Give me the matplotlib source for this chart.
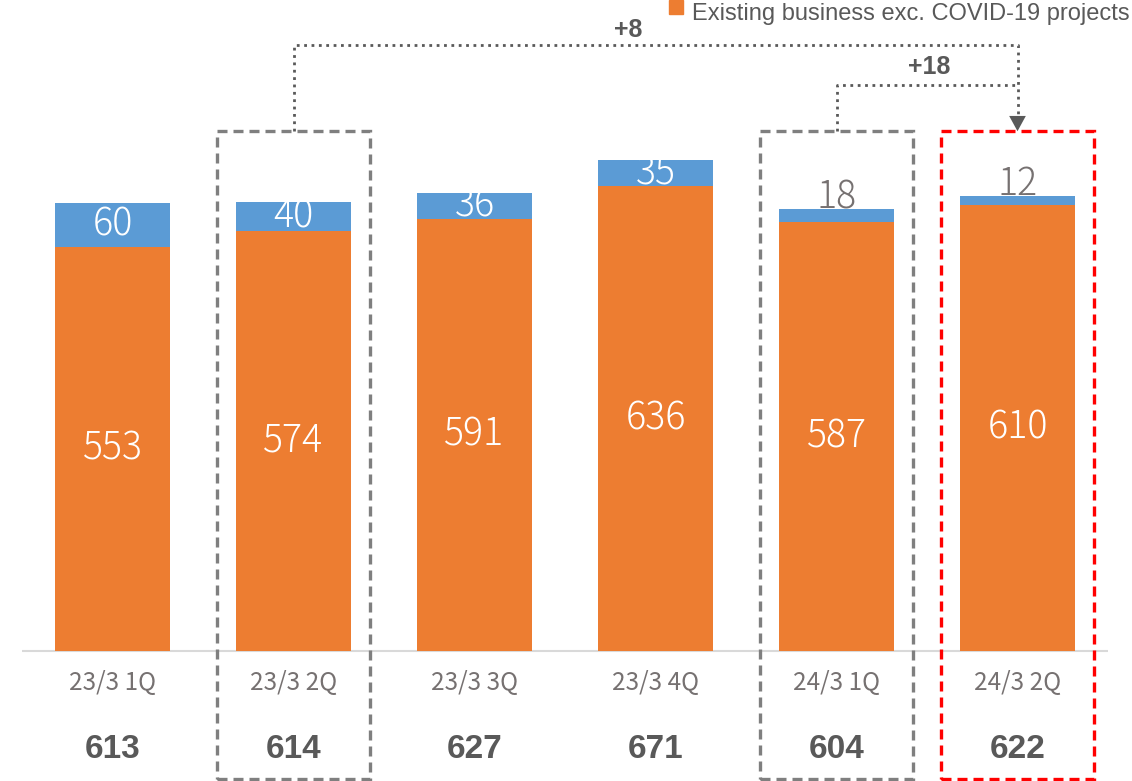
import matplotlib.pyplot as plt
from matplotlib.patches import Rectangle

plt.rcParams['font.family'] = ['Noto Sans CJK JP', 'DejaVu Sans']

# data
quarters = ['23/3 1Q', '23/3 2Q', '23/3 3Q', '23/3 4Q', '24/3 1Q', '24/3 2Q']
existing = [553, 574, 591, 636, 587, 610]
covid = [60, 40, 36, 35, 18, 12]
totals = [613, 614, 627, 671, 604, 622]

orange = '#ED7D31'
blue = '#5B9BD5'
grey = '#767171'
dark = '#595959'

fig = plt.figure(figsize=(11.32, 7.81), dpi=100)
ax = fig.add_axes([22 / 1132, 0, 1086 / 1132, 1])
ax.set_xlim(-0.5, 5.5)
ax.set_ylim(-177.8, 890.5)
ax.axis('off')

x = list(range(len(quarters)))
ax.bar(x, existing, width=0.635, color=orange, zorder=2)
ax.bar(x, covid, width=0.635, bottom=existing, color=blue, zorder=2)
ax.axhline(0, color='#D9D9D9', lw=1.5, zorder=1)

for i in x:
    ax.text(i, existing[i] / 2, str(existing[i]), ha='center', va='center',
            color='white', fontsize=27, fontweight='light', zorder=3)
    if covid[i] >= 30:
        ax.text(i, existing[i] + covid[i] / 2, str(covid[i]), ha='center', va='center',
                color='white', fontsize=27, fontweight='light', zorder=3)
    else:
        ax.text(i, totals[i] + 16, str(covid[i]), ha='center', va='center',
                color=grey, fontsize=27, fontweight='light', zorder=3)
    ax.text(i, -44, quarters[i], ha='center', va='center', color=grey, fontsize=17.5)
    ax.text(i, -135, str(totals[i]), ha='center', va='center', color=dark,
            fontsize=24, fontweight='bold', family='Liberation Sans')

# dashed highlight boxes
for i, col in [(1, '#7F7F7F'), (4, '#7F7F7F'), (5, '#FF0000')]:
    ax.add_patch(Rectangle((i - 0.42, -175), 0.84, 886, fill=False, ec=col, lw=2.4,
                           ls=(0, (3, 1.8)), zorder=4, clip_on=False))

# comparison connectors
ax.plot([1, 1, 5, 5], [711, 829, 829, 735], color=dark, lw=2, ls=':', zorder=4)
ax.plot([4, 4, 5], [711, 774, 774], color=dark, lw=2, ls=':', zorder=4)
ax.annotate('', xy=(5, 711), xytext=(5, 740),
            arrowprops=dict(arrowstyle='-|>,head_width=0.6,head_length=1.1',
                            color=dark, lw=0, shrinkA=0, shrinkB=0))
ax.text(2.85, 849, '+8', ha='center', va='center', color=dark, fontsize=18,
        fontweight='bold', family='Liberation Sans')
ax.text(4.51, 799, '+18', ha='center', va='center', color=dark, fontsize=18,
        fontweight='bold', family='Liberation Sans')

# legend (partly cut off at the top right)
fig.patches.append(Rectangle((669 / 1132, 1 - 14 / 781), 14 / 1132, 14 / 781,
                             transform=fig.transFigure, color=orange, figure=fig))
fig.text(692 / 1132, 1 - 14 / 781, 'Existing business exc. COVID-19 projects',
         ha='left', va='center', color=dark, fontsize=17, family='Liberation Sans')

fig.savefig('out.png', dpi=100)
